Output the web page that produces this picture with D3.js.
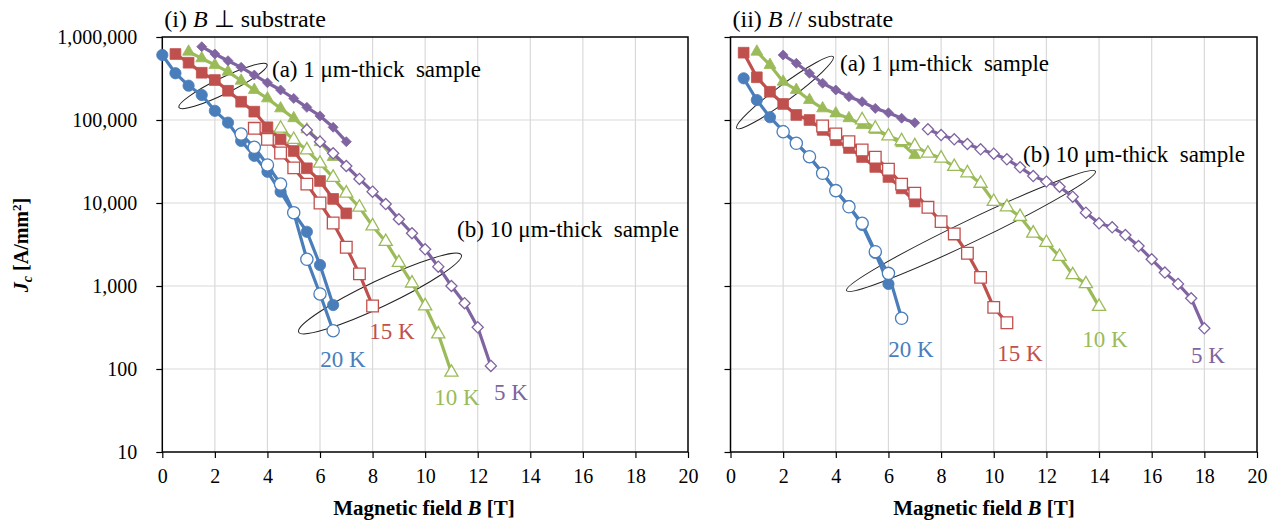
<!DOCTYPE html>
<html><head><meta charset="utf-8">
<script src="https://cdn.jsdelivr.net/npm/d3@7/dist/d3.min.js"></script>
<style>
body{margin:0;background:#fff}
text{font-family:"Liberation Serif","Times New Roman",serif}
</style>
</head><body>
<svg id="c" width="1277" height="524"></svg>
<script>
// ---------- tick labels ----------
const yTicks = [10, 100, 1000, 10000, 100000, 1000000];
const xTicks = [0, 2, 4, 6, 8, 10, 12, 14, 16, 18, 20];
const temps = ["20 K", "15 K", "10 K", "5 K"];
const tempColors = ["#4a7ebb", "#c0504d", "#9bbb59", "#8064a2"];

// ---------- (i) B ⊥ substrate ----------
// 1 µm-thick (filled markers)
const perp1_20K_B = [0,0.5,1,1.5,2,2.5,3,3.5,4,4.5,5,5.5,6,6.5];
const perp1_20K_J = [607000,366000,259000,200000,129000,93000,56000,37000,23800,13700,7600,4500,1790,590];
const perp1_15K_B = [0.5,1,1.5,2,2.5,3,3.5,4,4.5,5,5.5,6,6.5,7];
const perp1_15K_J = [624000,490000,371000,303000,225000,166000,126000,81700,58500,42300,26200,18400,11200,7500];
const perp1_10K_B = [1,1.5,2,2.5,3,3.5,4,4.5,5,5.5,6,6.5];
const perp1_10K_J = [665000,553000,460000,382000,297000,230000,182000,138000,105000,77000,54000,35800];
const perp1_5K_B  = [1.5,2,2.5,3,3.5,4,4.5,5,5.5,6,6.5,7];
const perp1_5K_J  = [764000,624000,518000,431000,348000,281000,230000,182000,142000,112000,81700,54800];
// 10 µm-thick (open markers)
const perp10_20K_B = [3,3.5,4,4.5,5,5.5,6,6.5];
const perp10_20K_J = [67800,46900,28700,16900,7650,2100,802,289];
const perp10_15K_B = [3.5,4,4.5,5,5.5,6,6.5,7,7.5,8];
const perp10_15K_J = [79400,58500,40000,26500,16900,10000,5740,2930,1400,574];
const perp10_10K_B = [4.5,5,5.5,6,6.5,7,7.5,8,8.5,9,9.5,10,10.5,11];
const perp10_10K_J = [79400,58000,43500,30000,20300,13100,8870,5280,3420,1910,1080,574,264,91];
const perp10_5K_B  = [5.5,6,6.5,7,7.5,8,8.5,9,9.5,10,10.5,11,11.5,12,12.5];
const perp10_5K_J  = [75900,54800,39700,27900,19500,13700,9720,6370,4320,2770,1710,1000,620,318,109];

// ---------- (ii) B // substrate ----------
const par1_20K_B = [0.5,1,1.5,2,2.5,3,3.5,4,4.5,5,5.5,6];
const par1_20K_J = [318000,174000,108000,73600,52800,35800,23000,14000,9200,5430,2500,1060];
const par1_15K_B = [0.5,1,1.5,2,2.5,3,3.5,4,4.5,5,5.5,6,6.5,7];
const par1_15K_J = [647000,327000,219000,156000,115000,100000,76000,57000,46000,35800,27200,20600,15000,10400];
const par1_10K_B = [1,1.5,2,2.5,3,3.5,4,4.5,5,5.5,6,6.5,7];
const par1_10K_J = [665000,460000,289000,230000,174000,138000,120000,105000,87000,75900,64000,52400,37900];
const par1_5K_B  = [2,2.5,3,3.5,4,4.5,5,5.5,6,6.5,7];
const par1_5K_J  = [607000,482000,366000,277000,230000,191000,166000,138000,122000,105000,92700];
const par10_20K_B = [2,2.5,3,3.5,4,4.5,5,5.5,6,6.5];
const par10_20K_J = [72300,52400,36100,22800,14100,9000,5690,2590,1420,408];
const par10_15K_B = [3.5,4,4.5,5,5.5,6,6.5,7,7.5,8,8.5,9,9.5,10,10.5];
const par10_15K_J = [84700,67800,54800,43500,35600,25500,16900,13100,8870,5960,4240,2480,1270,553,361];
const par10_10K_B = [5,5.5,6,6.5,7,7.5,8,8.5,9,9.5,10,10.5,11,11.5,12,12.5,13,13.5,14];
const par10_10K_J = [100000,79400,64000,55900,48600,39700,34600,27400,23000,17200,10400,8950,6840,4320,3330,2260,1360,1060,564];
const par10_5K_B  = [7.5,8,8.5,9,9.5,10,10.5,11,11.5,12,12.5,13,13.5,14,14.5,15,15.5,16,16.5,17,17.5,18];
const par10_5K_J  = [77300,65900,58500,51400,44400,39300,33600,26900,21100,18100,15700,11900,7650,5690,5090,4110,3030,2100,1450,1060,711,309];

// ---------- layout ----------
const svg = d3.select("#c");
const yTop = 37, yBot = 452;
const y = d3.scaleLog().domain([10, 1e6]).range([yBot, yTop]);
const shapes = [d3.symbolCircle, d3.symbolSquare, d3.symbolTriangle, "diamond"];
const filledSize = [100, 115, 62, 50];
const openSize = [118, 135, 75, 62];

const panels = [
  { x0: 162.3, x1: 688, title: ["(i) ", "B", " ⊥ substrate"], showY: true, xTitleX: 424,
    thin: [[perp1_20K_B,perp1_20K_J],[perp1_15K_B,perp1_15K_J],[perp1_10K_B,perp1_10K_J],[perp1_5K_B,perp1_5K_J]],
    thick: [[perp10_20K_B,perp10_20K_J],[perp10_15K_B,perp10_15K_J],[perp10_10K_B,perp10_10K_J],[perp10_5K_B,perp10_5K_J]],
    tempPos: [[343,359],[392,331],[457,397],[511,392]],
    ann: [{t:"(a) 1 μm-thick  sample", x:272, y:77, ex:223, ey:86, rx:49, ry:8, a:-26},
          {t:"(b) 10 μm-thick  sample", x:457, y:237, ex:380, ey:293.5, rx:90, ry:13, a:-25.4}] },
  { x0: 730.5, x1: 1257, title: ["(ii) ", "B", " // substrate"], showY: false, xTitleX: 984,
    thin: [[par1_20K_B,par1_20K_J],[par1_15K_B,par1_15K_J],[par1_10K_B,par1_10K_J],[par1_5K_B,par1_5K_J]],
    thick: [[par10_20K_B,par10_20K_J],[par10_15K_B,par10_15K_J],[par10_10K_B,par10_10K_J],[par10_5K_B,par10_5K_J]],
    tempPos: [[911,349],[1020,353],[1105,339],[1208,355]],
    ann: [{t:"(a) 1 μm-thick  sample", x:840, y:71, ex:785, ey:92.5, rx:60, ry:8, a:-36.5},
          {t:"(b) 10 μm-thick  sample", x:1023, y:162, ex:971, ey:231, rx:138, ry:11, a:-25.6}] }
];

function symPath(i, size) {
  if (shapes[i] === "diamond") {
    const h = Math.sqrt(size * 2) / 2;
    return `M0,${-h}L${h},0L0,${h}L${-h},0Z`;
  }
  return d3.symbol().type(shapes[i]).size(size)();
}

panels.forEach(p => {
  const x = d3.scaleLinear().domain([0, 20]).range([p.x0, p.x1]);
  const g = svg.append("g");

  // grid
  g.append("g").selectAll("line.v").data(xTicks.slice(1, -1)).join("line")
    .attr("x1", d => x(d)).attr("x2", d => x(d)).attr("y1", yTop).attr("y2", yBot)
    .attr("stroke", "#d9d9d9").attr("stroke-width", 1.2);
  g.append("g").selectAll("line.h").data(yTicks.slice(1, -1)).join("line")
    .attr("x1", p.x0).attr("x2", p.x1).attr("y1", d => y(d)).attr("y2", d => y(d))
    .attr("stroke", "#d9d9d9").attr("stroke-width", 1.2);

  // axes
  const ya = d3.axisLeft(y).tickValues(yTicks).tickSize(6).tickSizeOuter(0).tickPadding(19)
    .tickFormat(p.showY ? d3.format(",") : () => "");
  const yg = g.append("g").attr("transform", `translate(${p.x0},0)`).call(ya);
  const xa = d3.axisBottom(x).tickValues(xTicks).tickSize(6).tickSizeOuter(0).tickPadding(6);
  const xg = g.append("g").attr("transform", `translate(0,${yBot})`).call(xa);
  [yg, xg].forEach(a => {
    a.select(".domain").remove();
    a.selectAll("line").attr("stroke", "#000").attr("stroke-width", 1.2);
    a.selectAll("text").attr("font-family", "Liberation Serif, serif").attr("font-size", 20).attr("fill", "#000");
  });
  xg.selectAll("text").attr("dy", "0.95em");

  // frame
  g.append("rect").attr("x", p.x0).attr("y", yTop).attr("width", p.x1 - p.x0).attr("height", yBot - yTop)
    .attr("fill", "none").attr("stroke", "#000").attr("stroke-width", 1.5);

  // title
  const tt = g.append("text").attr("x", p.x0 + 2).attr("y", 27).attr("font-size", 24).attr("fill", "#000");
  tt.append("tspan").text(p.title[0]);
  tt.append("tspan").attr("font-style", "italic").text(p.title[1]);
  tt.append("tspan").text(p.title[2]);

  // x axis title
  const xt = g.append("text").attr("x", p.xTitleX).attr("y", 515).attr("text-anchor", "middle")
    .attr("font-size", 21).attr("font-weight", "bold").attr("fill", "#000");
  xt.append("tspan").text("Magnetic field ");
  xt.append("tspan").attr("font-style", "italic").text("B");
  xt.append("tspan").text(" [T]");

  // annotation ellipses
  p.ann.forEach(a => {
    g.append("ellipse").attr("cx", 0).attr("cy", 0).attr("rx", a.rx).attr("ry", a.ry)
      .attr("transform", `translate(${a.ex},${a.ey}) rotate(${a.a})`)
      .attr("fill", "none").attr("stroke", "#222").attr("stroke-width", 1);
  });

  const line = d3.line().x(d => x(d[0])).y(d => y(d[1]));
  const drawSeries = (B, J, i, open) => {
    const pts = B.map((b, k) => [b, J[k]]);
    const sg = g.append("g");
    sg.append("path").datum(pts).attr("d", line).attr("fill", "none")
      .attr("stroke", tempColors[i]).attr("stroke-width", 3.2).attr("stroke-linejoin", "round");
    sg.selectAll("path.m").data(pts).join("path")
      .attr("transform", d => `translate(${x(d[0])},${y(d[1])})`)
      .attr("d", symPath(i, open ? openSize[i] : filledSize[i]))
      .attr("fill", open ? "#fff" : tempColors[i])
      .attr("stroke", tempColors[i]).attr("stroke-width", open ? 1.3 : 0.8);
  };
  for (let i = 0; i < 4; i++) {
    drawSeries(p.thin[i][0], p.thin[i][1], i, false);
    drawSeries(p.thick[i][0], p.thick[i][1], i, true);
  }

  p.ann.forEach(a => {
    g.append("text").attr("x", a.x).attr("y", a.y).attr("font-size", 23).attr("fill", "#000")
      .style("white-space", "pre").text(a.t);
  });

  temps.forEach((t, i) => {
    g.append("text").attr("x", p.tempPos[i][0]).attr("y", p.tempPos[i][1]).attr("dy", "0.35em")
      .attr("text-anchor", "middle").attr("font-size", 23).attr("fill", tempColors[i]).text(t);
  });
});

// y axis title
const yt = svg.append("text").attr("transform", "translate(28,245) rotate(-90)")
  .attr("text-anchor", "middle").attr("font-size", 20).attr("font-weight", "bold").attr("fill", "#000");
yt.append("tspan").attr("font-style", "italic").text("J");
yt.append("tspan").attr("font-style", "italic").attr("font-size", 14).attr("dy", 4).text("c");
yt.append("tspan").attr("dy", -4).text(" [A/mm");
yt.append("tspan").attr("font-size", 13).attr("dy", -7).text("2");
yt.append("tspan").attr("dy", 7).text("]");
</script>
</body></html>
